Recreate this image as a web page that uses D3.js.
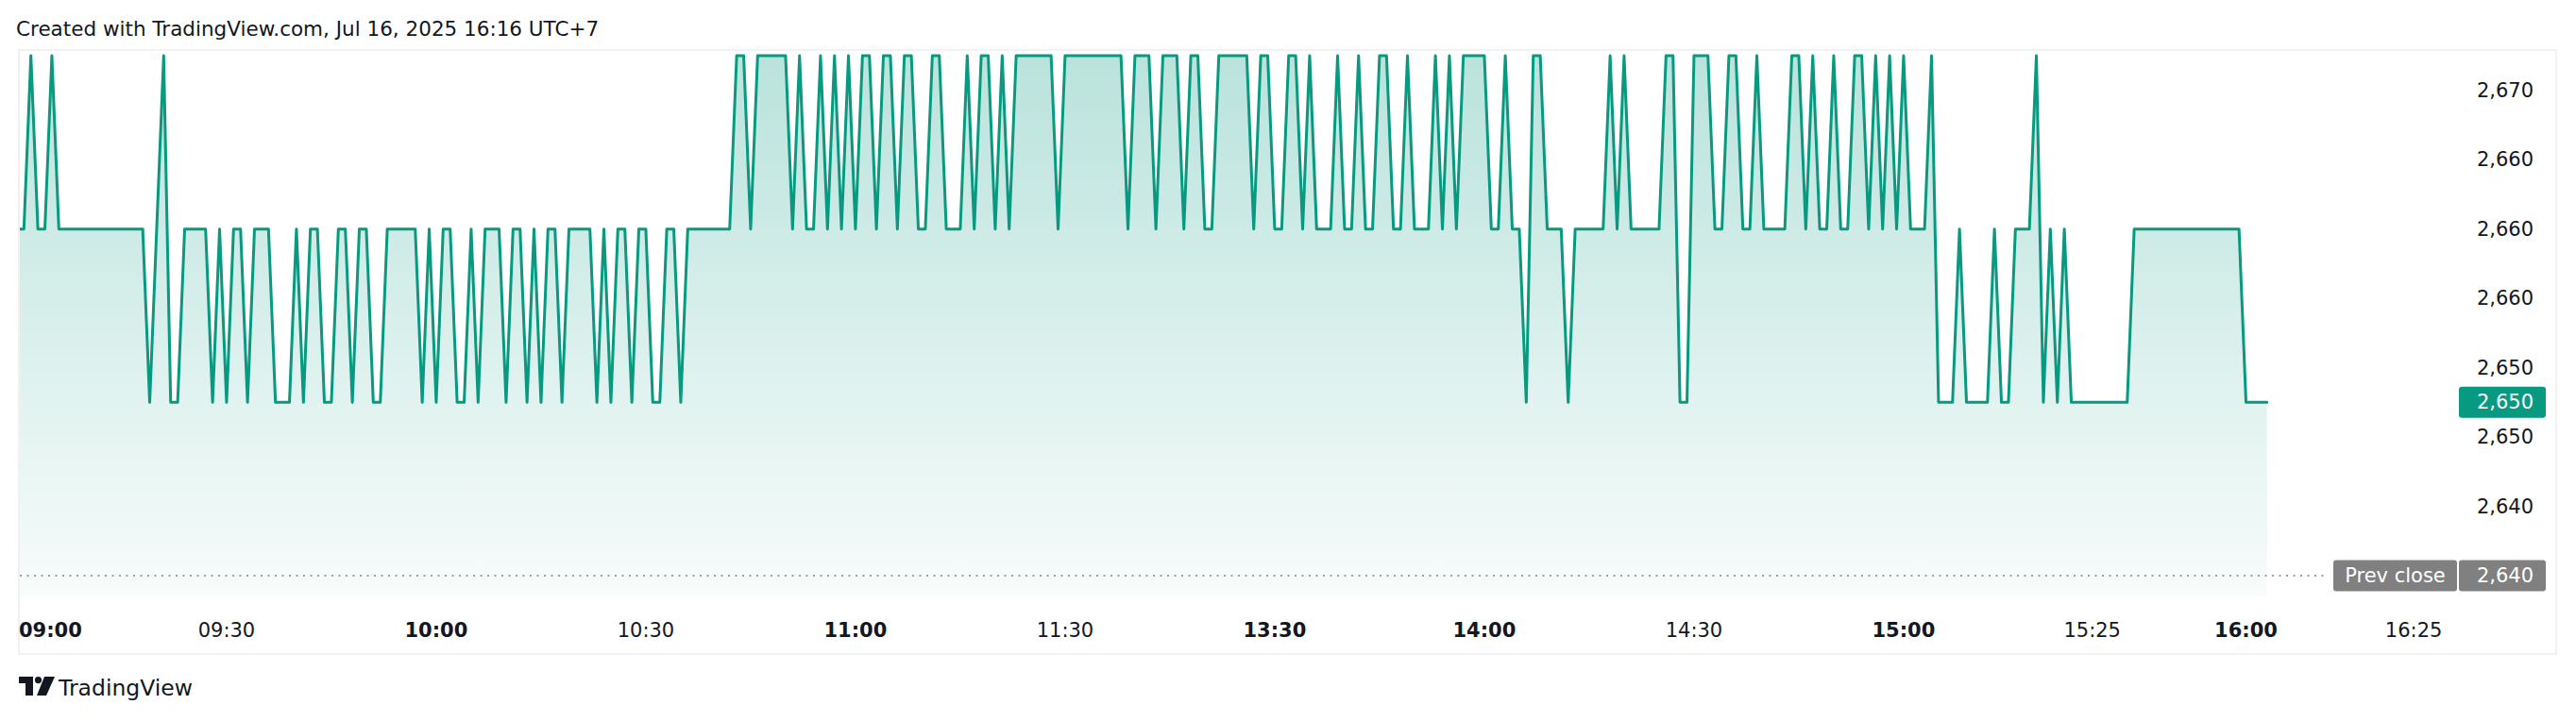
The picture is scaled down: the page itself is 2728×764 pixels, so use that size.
<!DOCTYPE html>
<html>
<head>
<meta charset="utf-8">
<script src="https://cdn.jsdelivr.net/npm/d3@7"></script>
<style>
  html, body { margin: 0; padding: 0; background: #ffffff; }
  svg { display: block; }
  text { font-family: "DejaVu Sans", sans-serif; fill: #131722; }
</style>
</head>
<body>
<div id="chart"></div>
<script>
// ---------------- DATA ----------------
const titleText = "Created with TradingView.com, Jul 16, 2025 16:16 UTC+7";

// 1-minute closes, one per bar (bar 0 = 09:00)
const closes = [
  2660,2660,2670,2660,2660,2670,2660,2660,2660,2660,
  2660,2660,2660,2660,2660,2660,2660,2660,2660,2650,
  2660,2670,2650,2650,2660,2660,2660,2660,2650,2660,
  2650,2660,2660,2650,2660,2660,2660,2650,2650,2650,
  2660,2650,2660,2660,2650,2650,2660,2660,2650,2660,
  2660,2650,2650,2660,2660,2660,2660,2660,2650,2660,
  2650,2660,2660,2650,2650,2660,2650,2660,2660,2660,
  2650,2660,2660,2650,2660,2650,2660,2660,2650,2660,
  2660,2660,2660,2650,2660,2650,2660,2660,2650,2660,
  2660,2650,2650,2660,2660,2650,2660,2660,2660,2660,
  2660,2660,2660,2670,2670,2660,2670,2670,2670,2670,
  2670,2660,2670,2660,2660,2670,2660,2670,2660,2670,
  2660,2670,2670,2660,2670,2670,2660,2670,2670,2660,
  2660,2670,2670,2660,2660,2660,2670,2660,2670,2670,
  2660,2670,2660,2670,2670,2670,2670,2670,2670,2660,
  2670,2670,2670,2670,2670,2670,2670,2670,2670,2660,
  2670,2670,2670,2660,2670,2670,2670,2660,2670,2670,
  2660,2660,2670,2670,2670,2670,2670,2660,2670,2670,
  2660,2660,2670,2670,2660,2670,2660,2660,2660,2670,
  2660,2660,2670,2660,2660,2670,2670,2660,2660,2670,
  2660,2660,2660,2670,2660,2670,2660,2670,2670,2670,
  2670,2660,2660,2670,2660,2660,2650,2670,2670,2660,
  2660,2660,2650,2660,2660,2660,2660,2660,2670,2660,
  2670,2660,2660,2660,2660,2660,2670,2670,2650,2650,
  2670,2670,2670,2660,2660,2670,2670,2660,2660,2670,
  2660,2660,2660,2660,2670,2670,2660,2670,2660,2660,
  2670,2660,2660,2670,2670,2660,2670,2660,2670,2660,
  2670,2660,2660,2660,2670,2650,2650,2650,2660,2650,
  2650,2650,2650,2660,2650,2650,2660,2660,2660,2670,
  2650,2660,2650,2660,2650,2650,2650,2650,2650,2650,
  2650,2650,2650,2660,2660,2660,2660,2660,2660,2660,
  2660,2660,2660,2660,2660,2660,2660,2660,2660,2650,
  2650,2650,2650
];

const prevClose = 2640;
const priceDomain = [2640, 2670];
const priceTicks = [2644, 2648, 2652, 2656, 2660, 2664, 2668];
const priceTickLabels = ["2,640", "2,650", "2,650", "2,660", "2,660", "2,660", "2,670"];
const lastPriceLabel = "2,650";
const prevCloseLabel = "2,640";

const timeTickIndex = [0, 30, 60, 90, 120, 150, 180, 210, 240, 270, 297, 319, 343];
const timeTickLabels = ["09:00","09:30","10:00","10:30","11:00","11:30","13:30","14:00","14:30","15:00","15:25","16:00","16:25"];
const timeTickBold = [true,false,true,false,true,false,true,true,false,true,false,true,false];

// ---------------- LAYOUT ----------------
const W = 2728, H = 764;
const frame = { left: 20, top: 53, right: 2707, bottom: 693 };
const pane = { left: 21, top: 54, right: 2602, bottom: 632 };
const firstBarX = 17.93, barSpacing = 7.4;
const lastIdx = 345;
const priceRange = [610, 59];
const priceLabelRight = 2683;
const badgeLeft = 2604, badgeRight = 2696, badgeH = 33;
const prevTitleLeft = 2471, prevTitleRight = 2602;
const timeLabelY = 668;
const green = "#089981";
const gray = "#808080";
const fontSize = 21;

const svg = d3.select("#chart").append("svg").attr("width", W).attr("height", H);

const x = d3.scaleLinear().domain([0, lastIdx]).range([firstBarX, firstBarX + lastIdx * barSpacing]);
const y = d3.scaleLinear().domain(priceDomain).range(priceRange);

// title
svg.append("text").attr("x", 17).attr("y", 30).attr("dominant-baseline", "central")
  .style("font-size", "21.5px").text(titleText);

// frame
svg.append("rect").attr("x", frame.left).attr("y", frame.top)
  .attr("width", frame.right - frame.left).attr("height", frame.bottom - frame.top)
  .attr("fill", "none").attr("stroke", "#f0f1f3").attr("stroke-width", 2);

const defs = svg.append("defs");
defs.append("clipPath").attr("id", "paneClip").append("rect")
  .attr("x", pane.left).attr("y", pane.top)
  .attr("width", pane.right - pane.left).attr("height", pane.bottom - pane.top);
const grad = defs.append("linearGradient").attr("id", "fillGrad")
  .attr("gradientUnits", "userSpaceOnUse")
  .attr("x1", 0).attr("x2", 0).attr("y1", y(priceDomain[1])).attr("y2", pane.bottom);
grad.append("stop").attr("offset", 0).attr("stop-color", green).attr("stop-opacity", 0.28);
grad.append("stop").attr("offset", 1).attr("stop-color", green).attr("stop-opacity", 0.03);

const g = svg.append("g").attr("clip-path", "url(#paneClip)");

// prev close dotted line
svg.append("line")
  .attr("x1", pane.left).attr("x2", prevTitleLeft - 6)
  .attr("y1", y(prevClose)).attr("y2", y(prevClose))
  .attr("stroke", gray).attr("stroke-width", 1.6).attr("stroke-dasharray", "2 5.5");

const area = d3.area().x((d, i) => x(i)).y0(pane.bottom).y1(d => y(d));
g.append("path").datum(closes).attr("d", area).attr("fill", "url(#fillGrad)");

const line = d3.line().x((d, i) => x(i)).y(d => y(d));
g.append("path").datum(closes).attr("d", line)
  .attr("fill", "none").attr("stroke", green).attr("stroke-width", 3)
  .attr("stroke-linejoin", "round").attr("stroke-linecap", "round");

// price axis labels
svg.append("g").selectAll("text").data(priceTicks).join("text")
  .attr("x", priceLabelRight).attr("y", d => y(d))
  .attr("text-anchor", "end").attr("dominant-baseline", "central")
  .style("font-size", fontSize + "px")
  .text((d, i) => priceTickLabels[i]);

// last price badge
const lastVal = closes[closes.length - 1];
svg.append("rect").attr("x", badgeLeft).attr("y", y(lastVal) - badgeH / 2)
  .attr("width", badgeRight - badgeLeft).attr("height", badgeH).attr("rx", 3).attr("fill", green);
svg.append("text").attr("x", priceLabelRight).attr("y", y(lastVal))
  .attr("text-anchor", "end").attr("dominant-baseline", "central")
  .style("font-size", fontSize + "px").style("fill", "#ffffff").text(lastPriceLabel);

// prev close labels
svg.append("rect").attr("x", prevTitleLeft).attr("y", y(prevClose) - badgeH / 2)
  .attr("width", prevTitleRight - prevTitleLeft).attr("height", badgeH).attr("rx", 3).attr("fill", gray);
svg.append("rect").attr("x", badgeLeft).attr("y", y(prevClose) - badgeH / 2)
  .attr("width", badgeRight - badgeLeft).attr("height", badgeH).attr("rx", 3).attr("fill", gray);
svg.append("text").attr("x", (prevTitleLeft + prevTitleRight) / 2).attr("y", y(prevClose))
  .attr("text-anchor", "middle").attr("dominant-baseline", "central")
  .style("font-size", fontSize + "px").style("fill", "#ffffff").text("Prev close");
svg.append("text").attr("x", priceLabelRight).attr("y", y(prevClose))
  .attr("text-anchor", "end").attr("dominant-baseline", "central")
  .style("font-size", fontSize + "px").style("fill", "#ffffff").text(prevCloseLabel);

// time axis labels
const tl = svg.append("g").selectAll("text").data(timeTickIndex).join("text")
  .attr("y", timeLabelY).attr("dominant-baseline", "central")
  .attr("text-anchor", "middle")
  .style("font-size", fontSize + "px")
  .style("font-weight", (d, i) => timeTickBold[i] ? "bold" : "normal")
  .text((d, i) => timeTickLabels[i]);
tl.each(function(d) {
  const w = this.getComputedTextLength();
  const cx = Math.max(x(d), frame.left + w / 2);
  d3.select(this).attr("x", cx);
});

// TradingView logo
const logo = svg.append("g").attr("transform", "translate(20,717)");
logo.append("path").attr("d", "M0,0 H15 V20 H7 V7 H0 Z").attr("fill", "#131722");
logo.append("circle").attr("cx", 20.5).attr("cy", 3.6).attr("r", 3.6).attr("fill", "#131722");
logo.append("path").attr("d", "M27,0 H38 L29,20 H19 Z").attr("fill", "#131722");
svg.append("text").attr("x", 62).attr("y", 729).attr("dominant-baseline", "central")
  .style("font-size", "23.5px").text("TradingView");
</script>
</body>
</html>
